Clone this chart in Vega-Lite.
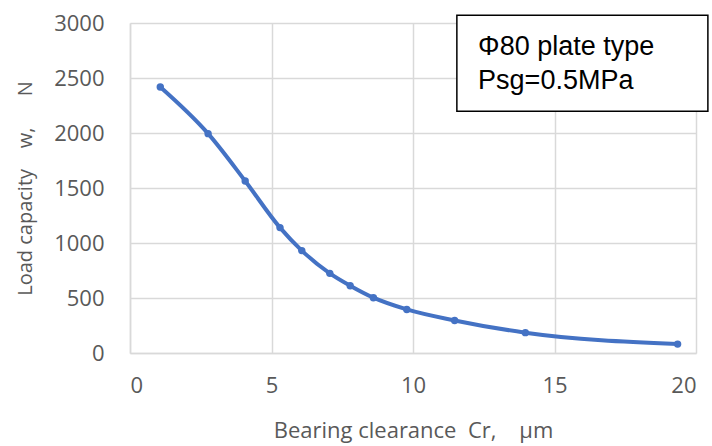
{
  "$schema": "https://vega.github.io/schema/vega-lite/v6.json",
  "width": 566,
  "height": 330,
  "autosize": "none",
  "padding": {"left": 130, "top": 23, "right": 16, "bottom": 93},
  "background": "white",
  "config": {
    "view": {"stroke": null},
    "axis": {
      "labelFont": "Open Sans",
      "titleFont": "Open Sans",
      "labelColor": "#595959",
      "titleColor": "#595959",
      "gridColor": "#d9d9d9",
      "gridWidth": 1.5,
      "domainColor": "#d9d9d9",
      "domainWidth": 1.5,
      "ticks": false
    }
  },
  "datasets": {
    "curve": [
      {"cr": 1.07, "w": 2418},
      {"cr": 2.76, "w": 1994},
      {"cr": 4.07, "w": 1564},
      {"cr": 5.30, "w": 1140},
      {"cr": 6.07, "w": 931},
      {"cr": 7.06, "w": 724},
      {"cr": 7.78, "w": 612},
      {"cr": 8.6, "w": 503},
      {"cr": 9.78, "w": 396},
      {"cr": 11.47, "w": 296},
      {"cr": 13.97, "w": 185},
      {"cr": 19.35, "w": 81}
    ],
    "box": [{"x1": 11.55, "x2": 20.42, "y1": 3070, "y2": 2197}],
    "labels": [
      {"tx": 12.3, "ty": 2706, "label": "Φ80 plate type"},
      {"tx": 12.3, "ty": 2397, "label": "Psg=0.5MPa"}
    ]
  },
  "layer": [
    {
      "data": {"name": "curve"},
      "mark": {"type": "line", "color": "#4472c4", "strokeWidth": 4, "interpolate": "monotone", "point": {"filled": true, "color": "#4472c4", "size": 55}},
      "encoding": {
        "x": {
          "field": "cr", "type": "quantitative",
          "scale": {"domain": [0, 20], "nice": false, "zero": false},
          "axis": {"values": [0, 5, 10, 15, 20], "format": "d", "labelFontSize": 22, "labelPadding": 22, "title": "Bearing clearance\u00a0\u00a0Cr,\u00a0\u00a0\u00a0\u00a0μm", "titleFontSize": 22, "titleFontWeight": "normal", "titlePadding": 24}
        },
        "y": {
          "field": "w", "type": "quantitative",
          "scale": {"domain": [0, 3000], "nice": false},
          "axis": {"values": [0, 500, 1000, 1500, 2000, 2500, 3000], "format": "d", "labelFontSize": 22, "labelPadding": 26, "title": "Load capacity\u00a0\u00a0\u00a0\u00a0w,\u00a0\u00a0\u00a0\u00a0\u00a0\u00a0N", "titleFontSize": 20, "titleFontWeight": "normal", "titlePadding": 18}
        }
      }
    },
    {
      "data": {"name": "box"},
      "mark": {"type": "rect", "fill": "white", "stroke": "black", "strokeWidth": 1.5},
      "encoding": {
        "x": {"field": "x1", "type": "quantitative"},
        "x2": {"field": "x2"},
        "y": {"field": "y1", "type": "quantitative"},
        "y2": {"field": "y2"}
      }
    },
    {
      "data": {"name": "labels"},
      "mark": {"type": "text", "font": "Liberation Sans", "fontSize": 27, "align": "left", "baseline": "alphabetic", "color": "black"},
      "encoding": {
        "x": {"field": "tx", "type": "quantitative"},
        "y": {"field": "ty", "type": "quantitative"},
        "text": {"field": "label"}
      }
    }
  ]
}
